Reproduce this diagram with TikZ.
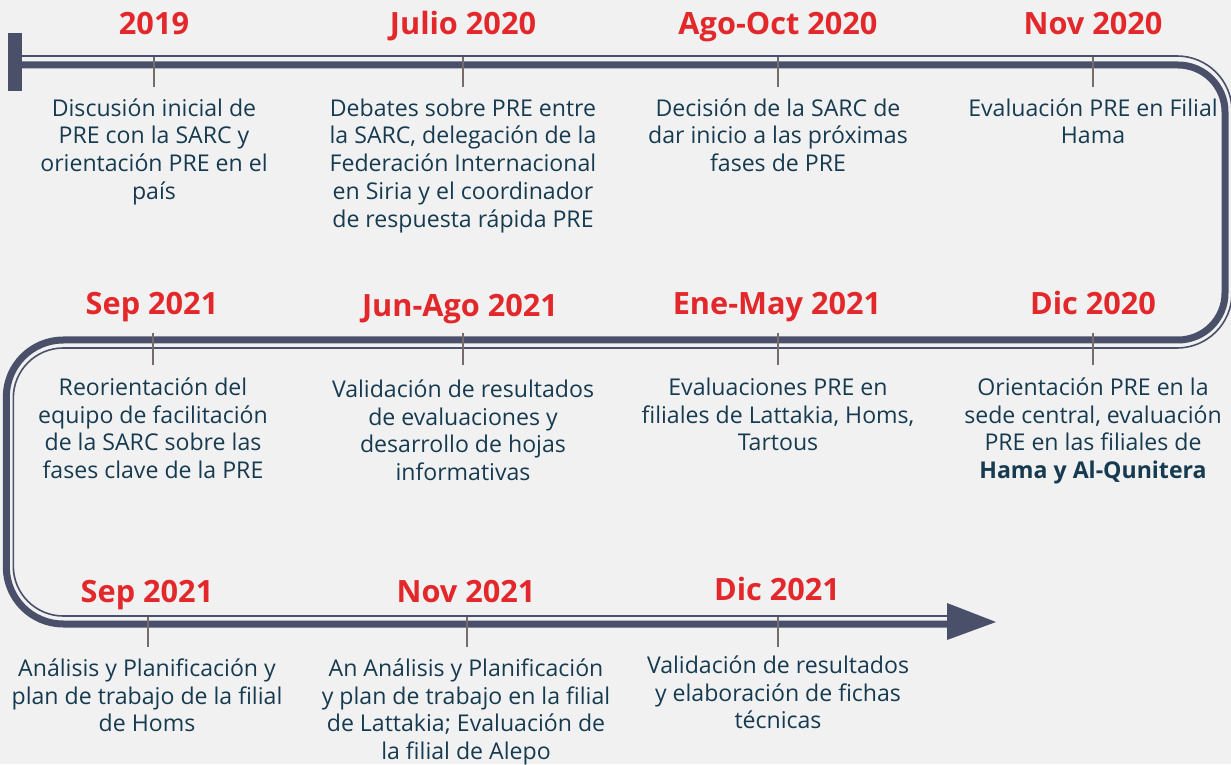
\documentclass[tikz,border=0pt]{standalone}
\usepackage{fontspec}
\setmainfont{Open Sans}
\begin{document}
\begin{tikzpicture}[x=1pt,y=1pt,
  track/.style={draw=slate, line width=7pt},
  rail/.style={draw=slate, line width=1.6pt},
  tick/.style={draw=tickgray, line width=2.6pt},
  datelabel/.style={anchor=base, inner sep=0pt, text=datered,
    font={\fontsize{30.7}{34}\selectfont\bfseries}},
  eventtext/.style={anchor=north, inner sep=0pt, align=center, text=bodyblue,
    font={\fontsize{23.1}{27.8}\selectfont}}]
\definecolor{slate}{HTML}{4A5069}
\definecolor{tickgray}{HTML}{766C6C}
\definecolor{datered}{HTML}{E3282B}
\definecolor{bodyblue}{HTML}{163B50}
\definecolor{paper}{HTML}{F1F1F1}
\newcommand{\fl}{\rule{0pt}{24pt}}

% canvas
\fill[paper] (0,0) rectangle (1231,764);
\useasboundingbox (0,0) rectangle (1231,764);

% start bar
\fill[slate] (8,673) rectangle (22,731);

% main track (thick) with the two U-turns
\draw[track] (15,699) -- (1178,699)
  arc[start angle=90, end angle=0, radius=47] -- (1225,471)
  arc[start angle=0, end angle=-90, radius=47] -- (63.3,424)
  arc[start angle=90, end angle=180, radius=57] -- (6.3,197)
  arc[start angle=180, end angle=270, radius=57] -- (950,140);

% companion rail (thin)
\draw[rail] (22,708) -- (1177,708)
  arc[start angle=90, end angle=0, radius=55] -- (1232,471)
  arc[start angle=0, end angle=-90, radius=55] -- (63.3,416)
  arc[start angle=90, end angle=180, radius=50] -- (13.3,198)
  arc[start angle=180, end angle=270, radius=50] -- (950,148);

% arrow head
\fill[slate] (947,161) -- (996,142) -- (947,124) -- cycle;

% ticks
\foreach \x in {154,463,778,1093} \draw[tick] (\x,707) -- (\x,677);
\foreach \x in {153,463,778,1093} \draw[tick] (\x,431) -- (\x,399);
\foreach \x in {148,467,778} \draw[tick] (\x,147) -- (\x,117);

% row 1
\node[datelabel] (d1) at (154,729) {2019};
\node[datelabel] (d2) at (463,729) {Julio 2020};
\node[datelabel] (d3) at (778,729) {Ago-Oct 2020};
\node[datelabel] (d4) at (1093,729) {Nov 2020};

\node[eventtext] (e1) at (154,672) {\fl Discusión inicial de\\PRE con la SARC y\\orientación PRE en el\\país};
\node[eventtext] (e2) at (463,672) {\fl Debates sobre PRE entre\\la SARC, delegación de la\\Federación Internacional\\en Siria y el coordinador\\de respuesta rápida PRE};
\node[eventtext] (e3) at (778,672) {\fl Decisión de la SARC de\\dar inicio a las próximas\\fases de PRE};
\node[eventtext] (e4) at (1093,672) {\fl Evaluación PRE en Filial\\Hama};

% row 2
\node[datelabel] (d5) at (152,449) {Sep 2021};
\node[datelabel] (d6) at (460,447) {Jun-Ago 2021};
\node[datelabel] (d7) at (777,449) {Ene-May 2021};
\node[datelabel] (d8) at (1093,449) {Dic 2020};

\node[eventtext] (e5) at (153,393) {\fl Reorientación del\\equipo de facilitación\\de la SARC sobre las\\fases clave de la PRE};
\node[eventtext] (e6) at (463,391) {\fl Validación de resultados\\de evaluaciones y\\desarrollo de hojas\\informativas};
\node[eventtext] (e7) at (778,393) {\fl Evaluaciones PRE en\\filiales de Lattakia, Homs,\\Tartous};
\node[eventtext] (e8) at (1093,393) {\fl Orientación PRE en la\\sede central, evaluación\\PRE en las filiales de\\\textbf{Hama y Al-Qunitera}};

% row 3
\node[datelabel] (d9) at (147,162) {Sep 2021};
\node[datelabel] (d10) at (466,162) {Nov 2021};
\node[datelabel] (d11) at (777,164) {Dic 2021};

\node[eventtext] (e9) at (147,112) {\fl Análisis y Planificación y\\plan de trabajo de la filial\\de Homs};
\node[eventtext] (e10) at (466,112) {\fl An Análisis y Planificación\\y plan de trabajo en la filial\\de Lattakia; Evaluación de\\la filial de Alepo};
\node[eventtext] (e11) at (778,115) {\fl Validación de resultados\\y elaboración de fichas\\técnicas};
\end{tikzpicture}
\end{document}
